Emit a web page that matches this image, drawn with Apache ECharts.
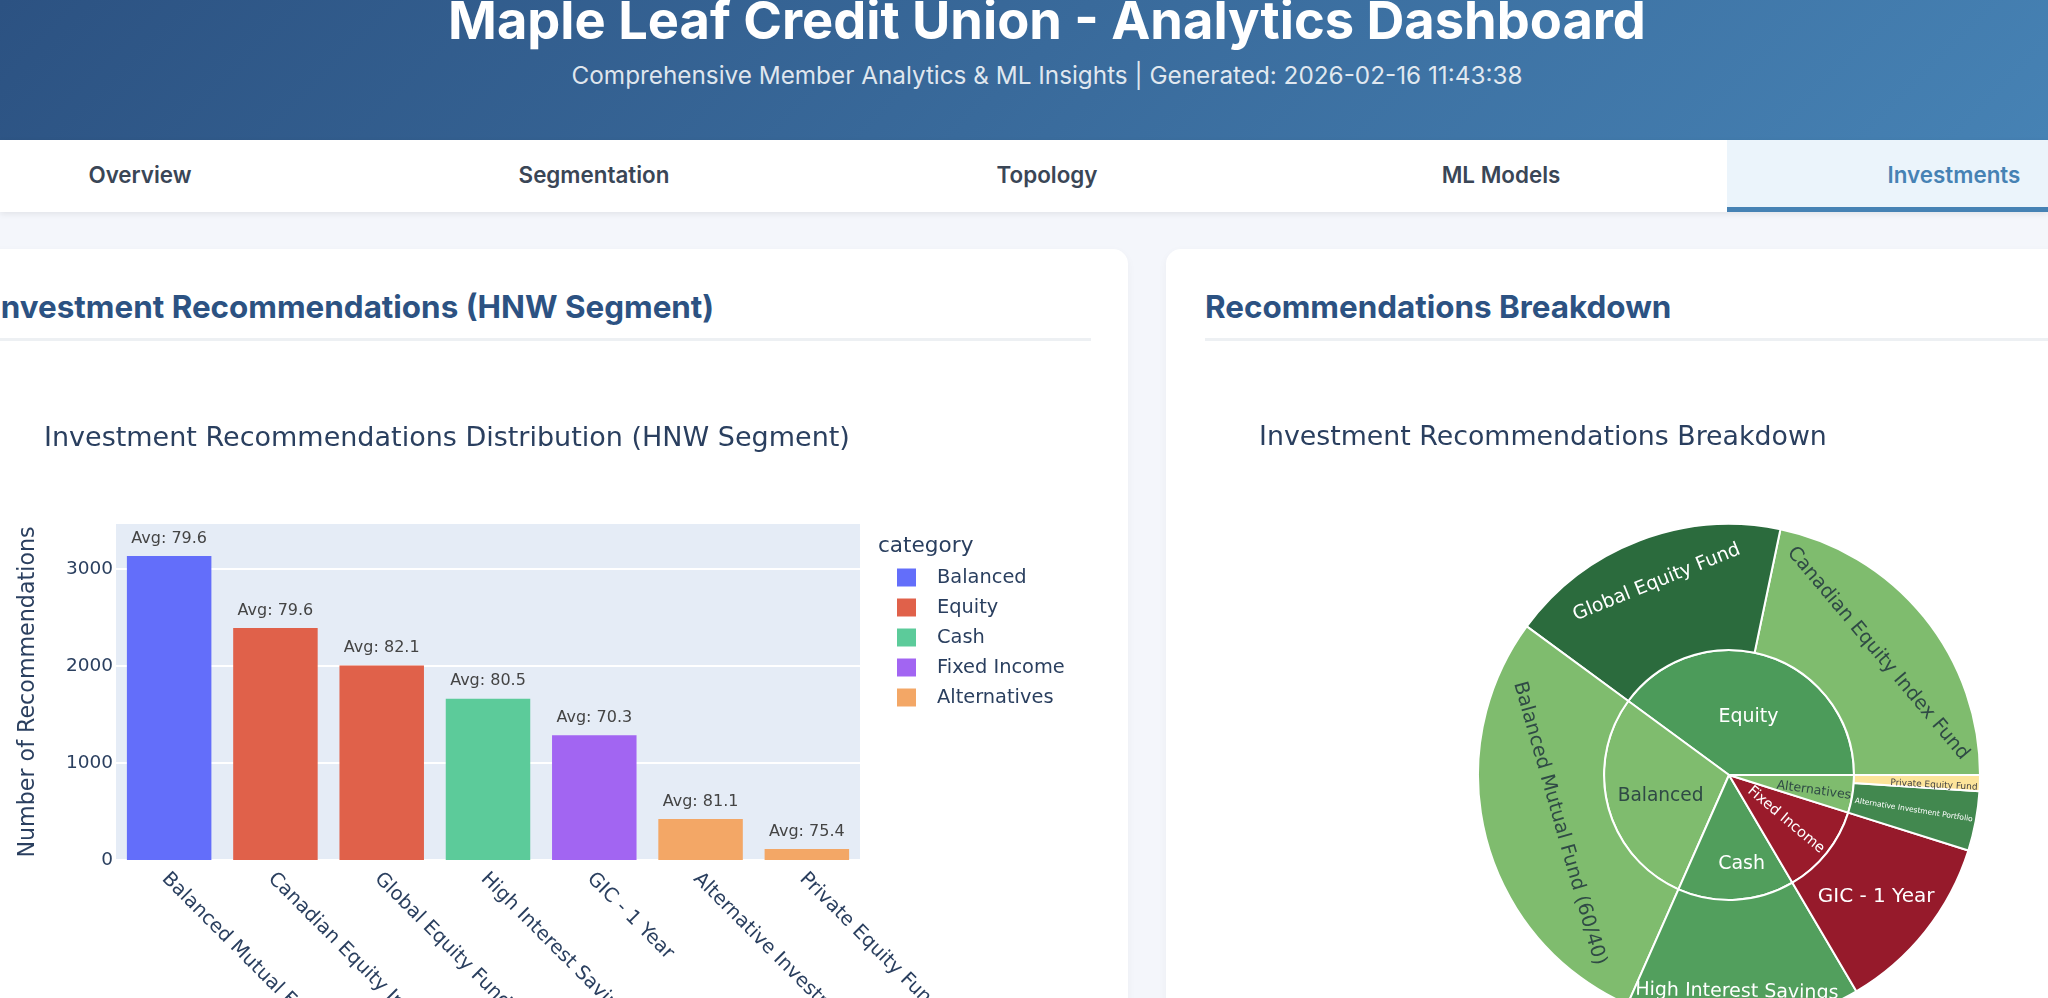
<!DOCTYPE html>
<html><head><meta charset="utf-8">
<script src="https://cdn.jsdelivr.net/npm/echarts@6/dist/echarts.min.js"></script>
<style>
html,body{margin:0;padding:0;width:2048px;height:998px;overflow:hidden;background:#f4f6fb;font-family:Inter,"Noto Sans",sans-serif}
.abs{position:absolute;white-space:nowrap}
#hdr{left:0;top:0;width:2048px;height:140px;background:linear-gradient(135deg,#2c5282 0%,#4682b4 100%)}
#h1{left:0;width:2094px;text-align:center;top:-15px;font-size:52.4px;font-weight:700;color:#fff;line-height:70px}
#sub{left:0;width:2094px;text-align:center;top:58px;font-size:24.3px;color:rgba(255,255,255,.85);line-height:34px}
#nav{left:0;top:140px;width:2048px;height:72px;background:#fff;box-shadow:0 2px 6px rgba(0,0,0,.08)}
.tab{position:absolute;top:0;width:454px;height:72px;line-height:70px;text-align:center;font-size:22.4px;font-weight:600;color:#3a4656}
.tab.on{color:#4682b4;background:#ebf4fb;height:67px;border-bottom:5px solid #4682b4}
.card{position:absolute;top:249px;height:900px;background:#fff;border-radius:15px;box-shadow:0 3px 10px rgba(0,0,0,.04)}
.h2{font-size:31.4px;font-weight:700;color:#2c5282;top:286px;line-height:42px}
.rule{top:338px;height:3px;background:#edf0f3}
#chart{position:absolute;left:0;top:0;width:2048px;height:998px}
</style></head><body>
<div class="abs" id="hdr"></div>
<div class="abs" id="h1">Maple Leaf Credit Union - Analytics Dashboard</div>
<div class="abs" id="sub">Comprehensive Member Analytics &amp; ML Insights | Generated: 2026-02-16 11:43:38</div>
<div class="abs" id="nav">
<div class="tab" style="left:-87px">Overview</div>
<div class="tab" style="left:367px">Segmentation</div>
<div class="tab" style="left:820px">Topology</div>
<div class="tab" style="left:1274px">ML Models</div>
<div class="tab on" style="left:1727px">Investments</div>
</div>
<div class="card" style="left:-46px;width:1174px"></div>
<div class="card" style="left:1166px;width:974px"></div>
<div class="abs h2" style="left:-8px">Investment Recommendations (HNW Segment)</div>
<div class="abs h2" style="left:1205px">Recommendations Breakdown</div>
<div class="abs rule" style="left:0;width:1091px"></div>
<div class="abs rule" style="left:1205px;width:843px"></div>
<div id="chart"></div>
<script>
const categories = ["Balanced Mutual Fund (60/40)","Canadian Equity Index Fund","Global Equity Fund","High Interest Savings","GIC - 1 Year","Alternative Investment Portfolio","Private Equity Fund"];
const productGroups = ["Balanced","Equity","Equity","Cash","Fixed Income","Alternatives","Alternatives"];
const recommendationCounts = [3134,2392,2005,1663,1285,423,113];
const averageScores = [79.6,79.6,82.1,80.5,70.3,81.1,75.4];
const groupOrder = ["Balanced","Equity","Cash","Fixed Income","Alternatives"];
const sunburstGroupOrder = ["Equity","Balanced","Cash","Fixed Income","Alternatives"];
const sunburstProductOrder = ["Canadian Equity Index Fund","Global Equity Fund","Balanced Mutual Fund (60/40)","High Interest Savings","GIC - 1 Year","Alternative Investment Portfolio","Private Equity Fund"];
const yTicks = {min:0,max:3464,interval:1000};

const barColors = {"Balanced":"#636efa","Equity":"#e0614a","Cash":"#5ccb9a","Fixed Income":"#a265f2","Alternatives":"#f3a766"};
const LIGHT="#7fbc6e", DARK_TXT="#2f4a45", WHITE="#ffffff";
const sliceStyle = {
 "Equity":{c:"#4c9b5a",t:WHITE,s:19,r:0,o:[0,1]},
 "Balanced":{c:LIGHT,t:DARK_TXT,s:18.6,r:0,o:[-8,5]},
 "Cash":{c:"#519e5c",t:WHITE,s:19,r:0,o:[9,27]},
 "Fixed Income":{c:"#9a1b2b",t:WHITE,s:14.5,r:-40,o:[8,6]},
 "Alternatives":{c:LIGHT,t:DARK_TXT,s:12.5,r:-8,o:[23,6]},
 "Canadian Equity Index Fund":{c:LIGHT,t:DARK_TXT,s:19.4,r:-50,o:[3,-3]},
 "Global Equity Fund":{c:"#2b6b3d",t:WHITE,s:19,r:22,o:[-5,-17]},
 "Balanced Mutual Fund (60/40)":{c:LIGHT,t:DARK_TXT,s:19.5,r:-74,o:[12,0]},
 "High Interest Savings":{c:"#529f5d",t:WHITE,s:19,r:-1,o:[-3,29]},
 "GIC - 1 Year":{c:"#961a2b",t:WHITE,s:20,r:0,o:[0,5]},
 "Alternative Investment Portfolio":{c:"#42884f",t:WHITE,s:7.5,r:-9,o:[0,0]},
 "Private Equity Fund":{c:"#fde49a",t:"#444",s:9,r:-3,o:[17,4]}
};
const FONT='"DejaVu Sans",Verdana,sans-serif';
// Sunburst labels sit on the slice mid-point: side padding moves the text along its rotated
// baseline, an empty second line of a chosen line height moves it across the baseline.
function localOffset(o,rDeg){
  const a=rDeg*Math.PI/180;
  return [o[0]*Math.cos(a)-o[1]*Math.sin(a), o[0]*Math.sin(a)+o[1]*Math.cos(a)];
}
function slice(name,value,children){
  const st=sliceStyle[name];
  const [lx,ly]=localOffset(st.o,st.r);
  const d={name,value,itemStyle:{color:st.c},label:{color:st.t,fontSize:st.s,rotate:st.r,
    padding:[0,Math.max(0,-2*lx),0,Math.max(0,2*lx)],
    lineHeight:Math.max(1,2*Math.abs(ly)),
    formatter:ly>=0?'\n'+name:name+'\n',
    fontFamily:FONT}};
  if(children)d.children=children;
  return d;
}
const sunData = sunburstGroupOrder.map(g=>{
  const kids=sunburstProductOrder.filter(p=>productGroups[categories.indexOf(p)]===g)
    .map(p=>slice(p,recommendationCounts[categories.indexOf(p)]));
  return slice(g,kids.reduce((a,k)=>a+k.value,0),kids);
});
const barSeries = groupOrder.map(g=>({
  name:g,type:'bar',stack:'all',barWidth:'79.5%',itemStyle:{color:barColors[g]},
  label:{show:true,position:'top',distance:9.5,fontFamily:FONT,fontSize:16,color:'#444',
    formatter:p=>'Avg: '+averageScores[p.dataIndex].toFixed(1)},
  data:categories.map((c,i)=>productGroups[i]===g?recommendationCounts[i]:null)
}));
const chart=echarts.init(document.getElementById('chart'));
chart.setOption({
  animation:false,
  backgroundColor:'transparent',
  textStyle:{fontFamily:FONT},
  title:[
   {text:'Investment Recommendations Distribution (HNW Segment)',left:39,top:420,textStyle:{fontFamily:FONT,fontSize:27,fontWeight:'normal',color:'#2a3f5f'}},
   {text:'Investment Recommendations Breakdown',left:1254,top:420,textStyle:{fontFamily:FONT,fontSize:26.8,fontWeight:'normal',color:'#2a3f5f'}},
   {text:'category',left:873,top:530,textStyle:{fontFamily:FONT,fontSize:21.6,fontWeight:'normal',color:'#2a3f5f'}}
  ],
  grid:{left:116,top:524,width:744,height:336,show:true,backgroundColor:'#e5ecf6',borderWidth:0,outerBoundsMode:'none'},
  legend:{orient:'vertical',left:892,top:563,icon:'rect',itemWidth:19,itemHeight:18,itemGap:11,data:groupOrder,
    textStyle:{fontFamily:FONT,fontSize:19.4,color:'#2a3f5f',padding:[0,0,0,16]},selectedMode:false},
  xAxis:{type:'category',data:categories,axisTick:{show:false},axisLine:{show:false},
    axisLabel:{rotate:-45,fontFamily:FONT,fontSize:19.5,color:'#2a3f5f',margin:6,interval:0,align:'left',verticalAlign:'top',padding:[0,0,0,4]}},
  yAxis:{type:'value',min:yTicks.min,max:yTicks.max,interval:yTicks.interval,
    name:'Number of Recommendations',nameLocation:'middle',nameGap:77,nameRotate:90,
    nameTextStyle:{fontFamily:FONT,fontSize:22.2,color:'#2a3f5f'},
    axisLine:{show:false},axisTick:{show:false},
    axisLabel:{fontFamily:FONT,fontSize:18.5,color:'#2a3f5f',margin:3,showMaxLabel:false,formatter:v=>String(v)},
    splitLine:{show:true,showMaxLine:false,lineStyle:{color:'#fff',width:2}}},
  series:[...barSeries,{
    type:'sunburst',center:[1729,775],radius:[0,251],startAngle:0,clockwise:false,sort:null,
    data:sunData,
    itemStyle:{borderColor:'#fff',borderWidth:2},
    label:{fontFamily:FONT},
    emphasis:{focus:'none'},
    levels:[{},{r0:0,r:125},{r0:125,r:251}]
  }]
});
</script>
</body></html>
